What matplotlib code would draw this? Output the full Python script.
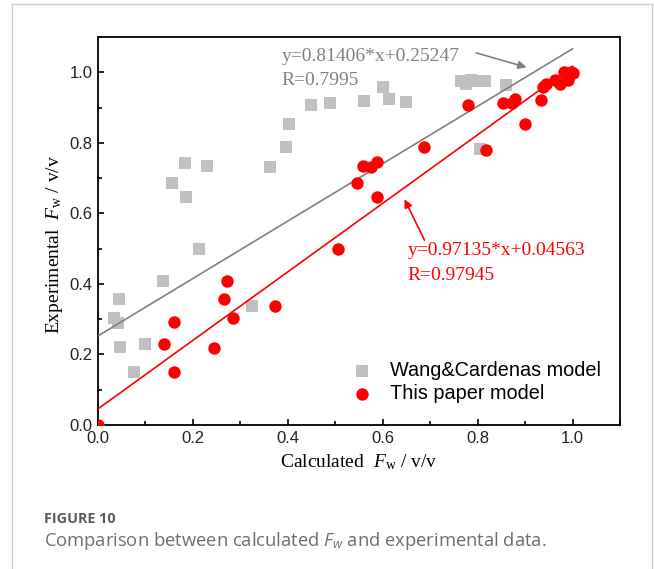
import matplotlib
matplotlib.use("Agg")
import matplotlib.pyplot as plt
from matplotlib.lines import Line2D
from matplotlib.ticker import MultipleLocator

# ---------- data ----------
wang_x = [0.034, 0.043, 0.045, 0.046, 0.075, 0.100, 0.138, 0.156, 0.183, 0.185,
          0.213, 0.229, 0.324, 0.363, 0.396, 0.403, 0.449, 0.488, 0.560, 0.601,
          0.613, 0.650, 0.765, 0.776, 0.785, 0.800, 0.815, 0.804, 0.860]
wang_y = [0.302, 0.290, 0.356, 0.221, 0.149, 0.229, 0.408, 0.685, 0.744, 0.645,
          0.500, 0.733, 0.337, 0.731, 0.787, 0.852, 0.906, 0.913, 0.919, 0.957,
          0.925, 0.916, 0.975, 0.968, 0.978, 0.975, 0.975, 0.782, 0.965]

paper_x = [0.000, 0.140, 0.160, 0.160, 0.245, 0.266, 0.272, 0.285, 0.373, 0.506,
           0.546, 0.559, 0.576, 0.587, 0.589, 0.687, 0.780, 0.817, 0.853, 0.872,
           0.878, 0.900, 0.933, 0.938, 0.944, 0.962, 0.973, 0.983, 0.990, 0.997,
           0.987, 1.000]
paper_y = [0.000, 0.229, 0.149, 0.291, 0.219, 0.356, 0.407, 0.303, 0.337, 0.500,
           0.685, 0.734, 0.732, 0.645, 0.746, 0.787, 0.906, 0.779, 0.913, 0.912,
           0.925, 0.852, 0.920, 0.958, 0.968, 0.977, 0.968, 1.000, 0.977, 1.000,
           0.995, 0.998]

# linear fits (from the annotations)
wang_fit = (0.81406, 0.25247)
paper_fit = (0.97135, 0.04563)
wang_label = ["y=0.81406*x+0.25247", "R=0.7995"]
paper_label = ["y=0.97135*x+0.04563", "R=0.97945"]
fit_x = [0.0, 1.0]

# ---------- style ----------
plt.rcParams["mathtext.fontset"] = "custom"
plt.rcParams["mathtext.rm"] = "Liberation Serif"
plt.rcParams["mathtext.it"] = "Liberation Serif:italic"
plt.rcParams["mathtext.sf"] = "Open Sans:italic"

SERIF = "Liberation Serif"
SANS = "Liberation Sans"
GRAY_PT = "#c0c0c0"
GRAY_LN = "#808080"

fig = plt.figure(figsize=(6.54, 5.69), dpi=100)
ax = fig.add_axes([0.1498, 0.2531, 0.7982, 0.6819])

ax.scatter(wang_x, wang_y, marker="s", s=64, color=GRAY_PT, linewidths=0,
           zorder=2, label="Wang&Cardenas model")
ax.plot(fit_x, [wang_fit[0] * v + wang_fit[1] for v in fit_x], color=GRAY_LN,
        lw=1.2, zorder=3)
ax.plot(fit_x, [paper_fit[0] * v + paper_fit[1] for v in fit_x], color="red",
        lw=1.2, zorder=3)
ax.scatter(paper_x, paper_y, marker="o", s=80, color="red", linewidths=0,
           zorder=4, label="This paper model")

ax.set_xlim(0, 1.1)
ax.set_ylim(0, 1.1)
ax.xaxis.set_minor_locator(MultipleLocator(0.1))
ax.yaxis.set_minor_locator(MultipleLocator(0.1))
ax.set_xticks([0.0, 0.2, 0.4, 0.6, 0.8, 1.0])
ax.set_yticks([0.0, 0.2, 0.4, 0.6, 0.8, 1.0])
ax.tick_params(which="both", direction="in", top=False, right=False,
               width=1.2, labelsize=12, colors="black")
ax.tick_params(which="major", length=4.2, pad=4)
ax.tick_params(which="minor", length=2.6)
for lab in ax.get_xticklabels() + ax.get_yticklabels():
    lab.set_fontfamily(SANS)
    lab.set_color("#222222")
for sp in ax.spines.values():
    sp.set_linewidth(1.3)

ax.set_xlabel(r"Calculated  $F_{\mathrm{w}}$ / v/v", fontfamily=SERIF,
              fontsize=14, labelpad=5)
ax.set_ylabel(r"Experimental  $F_{\mathrm{w}}$ / v/v", fontfamily=SERIF,
              fontsize=14)
ax.yaxis.set_label_coords(-0.064, 0.465)

# fit annotations
ax.text(0.387, 1.031, wang_label[0], color=GRAY_LN,
        fontfamily=SERIF, fontsize=14, va="baseline")
ax.text(0.387, 0.963, wang_label[1], color=GRAY_LN,
        fontfamily=SERIF, fontsize=14, va="baseline")
ax.annotate("", xy=(0.903, 1.014), xytext=(0.797, 1.055),
            arrowprops=dict(arrowstyle="-|>", color=GRAY_LN, lw=1.2,
                            mutation_scale=12, shrinkA=0, shrinkB=0))

ax.text(0.652, 0.482, paper_label[0], color="red",
        fontfamily=SERIF, fontsize=14, va="baseline")
ax.text(0.652, 0.411, paper_label[1], color="red",
        fontfamily=SERIF, fontsize=14, va="baseline")
ax.annotate("", xy=(0.646, 0.640), xytext=(0.688, 0.524),
            arrowprops=dict(arrowstyle="-|>", color="red", lw=1.2,
                            mutation_scale=12, shrinkA=0, shrinkB=0))

ax.legend(loc="upper left", bbox_to_anchor=(0.452, 0.211), frameon=False,
          prop={"family": SANS, "size": 14.3}, handlelength=1.0,
          handletextpad=0.9, labelspacing=0.22, borderpad=0.4)

# card frame and caption
frame_kw = dict(color="#cfcfcf", lw=1.0, transform=fig.transFigure)
fig.add_artist(Line2D([0.0183, 0.0183], [0.0, 0.993], **frame_kw))
fig.add_artist(Line2D([0.0183, 0.997], [0.993, 0.993], **frame_kw))
fig.add_artist(Line2D([0.997, 0.997], [0.0, 0.993], **frame_kw))

fig.text(44 / 654, 1 - 523 / 569, "FIGURE 10", fontfamily="Open Sans",
         fontweight="bold", fontsize=10.4, color="#5b5b5b", va="baseline")
fig.text(44 / 654, 1 - 546 / 569,
         r"Comparison between calculated $\mathsf{F}_{\mathsf{w}}$ and experimental data.",
         fontfamily="Open Sans", fontsize=13.2, color="#6e6e6e", va="baseline")

fig.savefig("out.png", dpi=100)
